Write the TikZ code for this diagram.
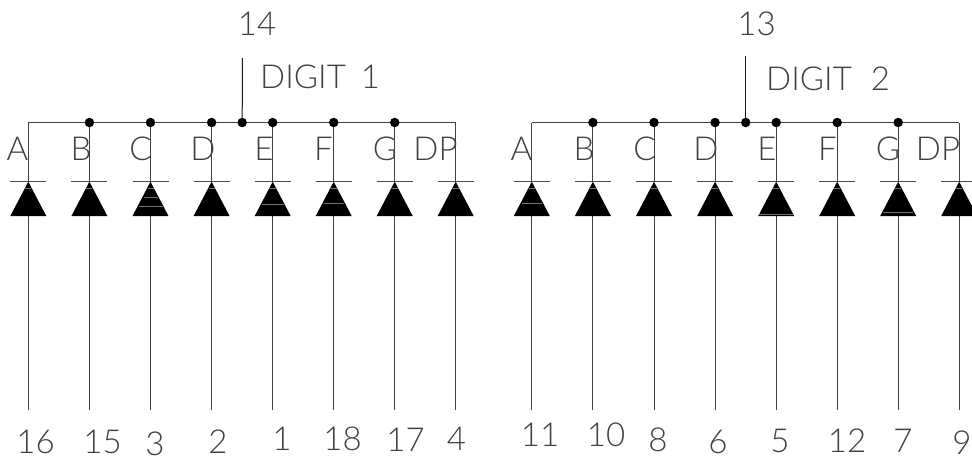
\documentclass[tikz,border=0pt]{standalone}
\usepackage{fontspec}
\setmainfont{Lato}[UprightFont=* Light,Numbers=Lining]
\tikzset{
  x=1pt,y=-1pt,
  wire/.style={line width=0.9pt,draw=black!75},
  stem/.style={line width=1pt,draw=black!90},
  bar/.style={line width=0.7pt,draw=black!70},
  hair/.style={line width=0.5pt,draw=black!55},
  dot/.style={circle,fill=black,inner sep=0pt,minimum size=9.5pt},
  lab/.style={inner sep=0pt,font=\fontsize{33}{33}\selectfont,text=black!75},
  diode/.style={fill=black,draw=none}
}
\begin{document}
\begin{tikzpicture}
\useasboundingbox (0,0) rectangle (972,459);
\foreach \off/\pre in {0/a,503.5/b}{
  \begin{scope}[xshift=\off pt]
  \coordinate (\pre busL) at (28.3,122.5);
  \coordinate (\pre busR) at (455.7,122.5);
  \draw[wire] (\pre busL) -- (\pre busR);
  \foreach \x/\n in {28.3/1,89.4/2,150.5/3,211.6/4,272.7/5,333.7/6,394.7/7,455.7/8}{
    \coordinate (\pre top\n) at (\x,122.5);
    \coordinate (\pre apex\n) at (\x,181.7);
    \coordinate (\pre base\n) at (\x,216);
    \coordinate (\pre end\n) at (\x,410);
    \coordinate (\pre bl\n) at (\x-18,216);
    \coordinate (\pre br\n) at (\x+18,216);
    \draw[wire] (\pre top\n) -- (\pre apex\n);
    \draw[wire] (\pre base\n) -- (\pre end\n);
    \draw[bar] ([xshift=-18pt]\pre apex\n) -- ([xshift=18pt]\pre apex\n);
    \fill[diode] (\pre apex\n) -- (\pre bl\n) -- (\pre br\n) -- cycle;
    \draw[hair] (\x-3,188.5) -- (\x+3,188.5);
  }
  \foreach \n in {2,3,4,5,6,7}{\node[dot] (\pre dot\n) at (\pre top\n) {};}
  \node[dot] (\pre com) at (242.2,122.5) {};
  \end{scope}
}
\foreach \x/\y/\h in {150.5/197/7,150.5/206/12,272.7/204/11,333.7/203/10,
  531.8/203/10,776.2/214/17,898.2/212/15}{
  \draw[hair] (\x-\h,\y) -- (\x+\h,\y);
}
\coordinate (stemA) at (242.4,58);
\coordinate (stemB) at (745.7,56);
\draw[stem] (stemA) -- (acom.center);
\draw[stem] (stemB) -- (bcom.center);
\node[lab] (n14) at (257,23.5) {14};
\node[lab] (n13) at (756.5,23.5) {13};
\node[lab,anchor=west] (d1) at (260,76.5) {DIGIT\hspace{15pt}1};
\node[lab,anchor=west] (d2) at (766,78.5) {DIGIT\hspace{19pt}2};
\foreach \x/\t in {17.5/A,81/B,140.5/C,203/D,264/E,323.5/F,385/G,435.5/DP,
  521.5/A,584/B,644.5/C,706/D,767/E,827.5/F,888/G,938/DP}{
  \node[lab] (L\x) at (\x,149) {\t};
}
\foreach \x/\y/\t in {35.5/442/16,102.5/442/15,155/444/3,218/442/2,282/439/1,342.5/439/18,405.5/440/17,456.5/439/4,
 540/435/11,606/435/10,658/440/8,718/442/6,780/441/5,847/441/12,903/441/7,962/443/9}{
  \node[lab] (P\x) at (\x,\y) {\t};
}
\end{tikzpicture}
\end{document}
